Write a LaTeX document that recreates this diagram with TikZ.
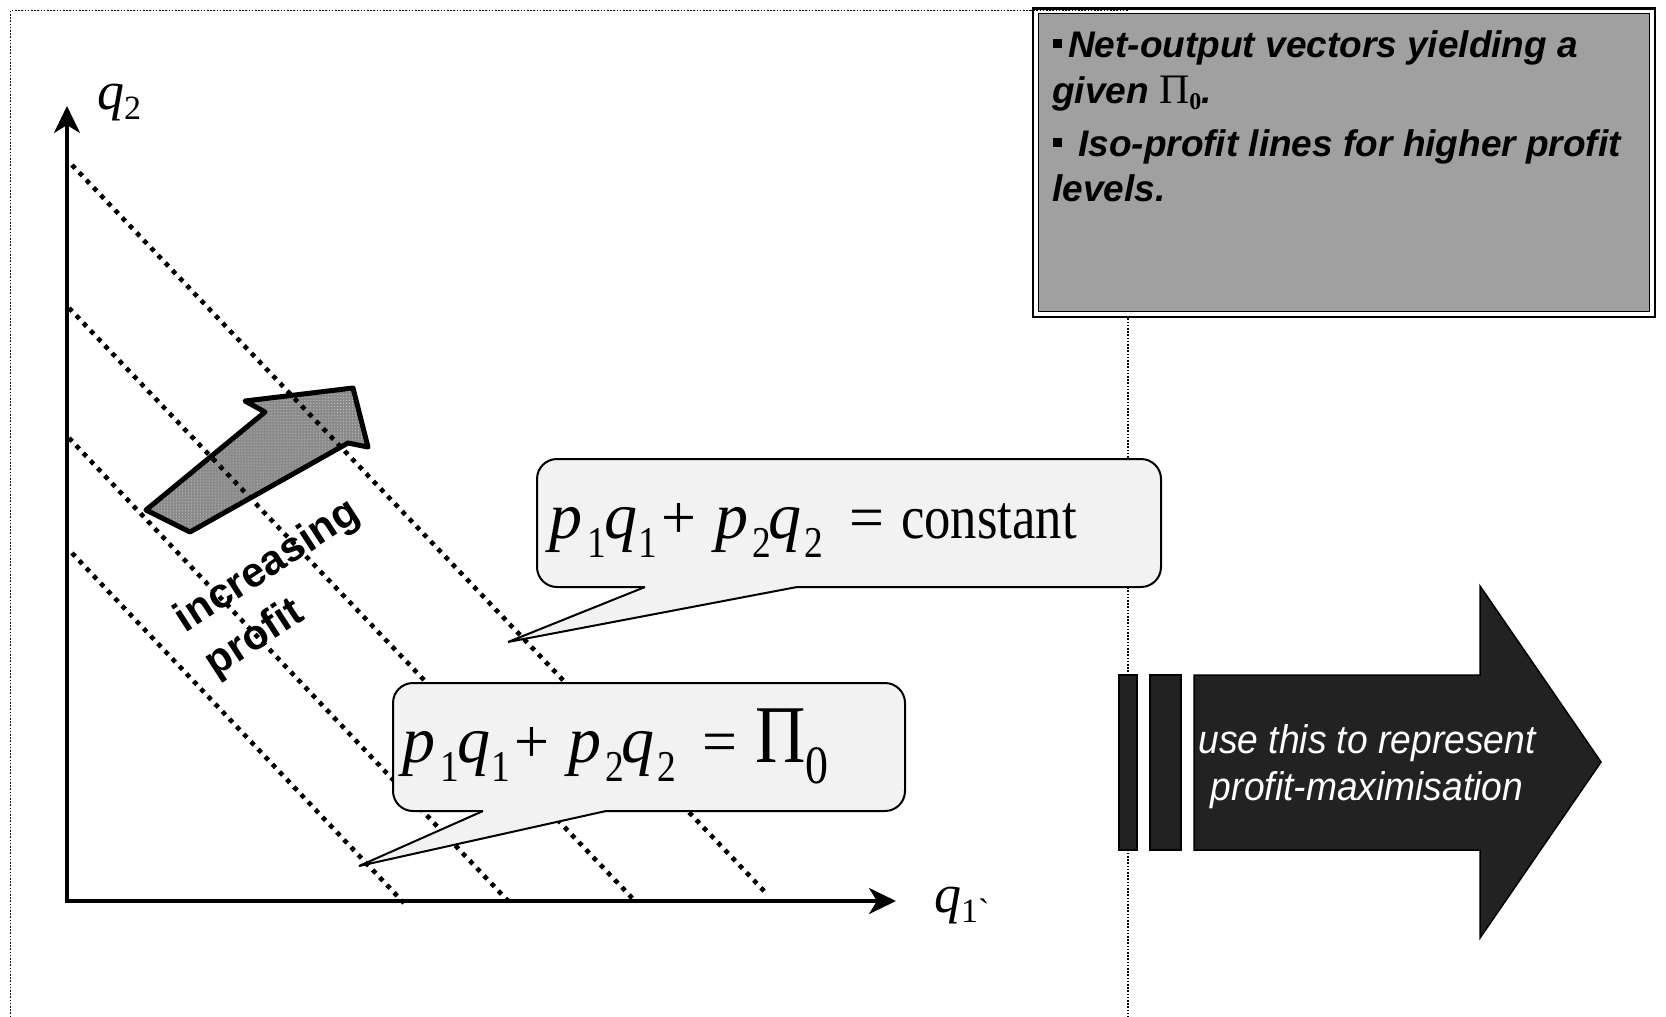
\documentclass[tikz,border=0pt]{standalone}
\usepackage{fontspec}
\usetikzlibrary{arrows.meta,patterns,calc}

\newfontfamily\sansf{Liberation Sans}
\newfontfamily\serff{Liberation Serif}
\newfontfamily\eqf[FakeStretch=0.85]{Liberation Serif}
\newfontfamily\notef[FakeStretch=0.93]{Liberation Sans}

\definecolor{panelgrey}{HTML}{A0A0A0}
\definecolor{bubblefill}{HTML}{F2F2F2}
\definecolor{darkfill}{HTML}{222222}
\definecolor{stipplebase}{HTML}{8A8A8A}
\definecolor{stippledot}{HTML}{DDDDDD}

% small square bullet
\newcommand\sqbullet{\raisebox{9bp}{\rule{9bp}{9bp}}}
% pieces of the formula: italic letters, operators, lowered subscripts
\newcommand\eqsub[1]{\raisebox{-19bp}{\eqf\upshape\fontsize{44bp}{44bp}\selectfont #1}}
\newcommand\eqvar[1]{{\serff\itshape\fontsize{66bp}{66bp}\selectfont #1}}
\newcommand\eqop[1]{{\serff\upshape\fontsize{62bp}{62bp}\selectfont #1}}
\newcommand\eqpiece[2]{\makebox[#1bp][l]{#2}}
\newcommand\lhsformula{%
  \eqpiece{38}{\eqvar{p}}\eqpiece{17}{\eqsub{1}}%
  \eqpiece{34}{\eqvar{q}}\eqpiece{23}{\eqsub{1}}%
  \eqpiece{54}{\eqop{+}}%
  \eqpiece{37}{\eqvar{p}}\eqpiece{16}{\eqsub{2}}%
  \eqpiece{36}{\eqvar{q}}\eqpiece{45}{\eqsub{2}}}

\begin{document}
\begin{tikzpicture}[x=1bp,y=-1bp,
  framedot/.style={line width=1.6bp, dash pattern=on 1.6bp off 1.6bp},
  isoline/.style={line width=4.6bp, dash pattern=on 4.6bp off 5.8bp},
  axisline/.style={line width=3.5bp,
    arrows={Stealth[length=27bp,width=26bp,inset=8bp]-Stealth[length=27bp,width=26bp,inset=8bp]}},
  bubble/.style={draw=black, fill=bubblefill, line width=2bp, rounded corners=20bp,
    inner sep=0pt, minimum height=128bp},
  eqtext/.style={font=\eqf\fontsize{62bp}{62bp}\selectfont, inner sep=0pt, anchor=base west},
  boxtext/.style={font=\sansf\bfseries\itshape\fontsize{37bp}{44bp}\selectfont,
    inner sep=0pt, anchor=base west},
  risetext/.style={font=\sansf\bfseries\fontsize{42bp}{42bp}\selectfont,
    inner sep=0pt, rotate=33},
  notetext/.style={font=\notef\itshape\fontsize{40bp}{40bp}\selectfont, text=white,
    inner sep=0pt, anchor=base},
  qlabel/.style={font=\serff\fontsize{54bp}{54bp}\selectfont, inner sep=0pt, anchor=base west},
  darkshape/.style={fill=darkfill, draw=black, line width=1.5bp, line join=miter}]

\path[use as bounding box] (0,0) rectangle (1666,1016);
\clip (0,0) rectangle (1666,1016);

% dotted page frame
\draw[framedot] (10.5,1030) -- (10.5,10.5) -- (1128,10.5) -- (1128,1030);

% grey note panel with double border
\draw[line width=2.5bp, fill=white] (1033,8.5) rectangle (1655,317);
\draw[line width=1.5bp, fill=panelgrey] (1038.5,13.5) rectangle (1649.5,311.5);
\draw[framedot] (1030,10.5) -- (1128,10.5);
\node[boxtext] (note1) at (1053,57) {\sqbullet\hspace{6bp}Net-output vectors yielding a};
\node[boxtext] (note2) at (1052,103) {given {\serff\upshape\mdseries\fontsize{42bp}{42bp}\selectfont Π\raisebox{-6bp}{\bfseries\fontsize{24bp}{24bp}\selectfont 0}}.};
\node[boxtext] (note3) at (1053,156) {\sqbullet\hspace{16bp}Iso-profit lines for higher profit};
\node[boxtext] (note4) at (1052,201) {levels.};

% axes
\coordinate (origin) at (67,901);
\coordinate (ytip) at (67,106);
\coordinate (xtip) at (896,901);
\draw[axisline] (ytip) -- (origin) -- (xtip);
\node[qlabel] (qtwo) at (97,109) {{\itshape q}\raisebox{-10bp}{\fontsize{34bp}{34bp}\selectfont 2}};
\node[qlabel] (qone) at (934,912) {{\itshape q}\raisebox{-10bp}{\fontsize{34bp}{34bp}\selectfont 1\textasciigrave}};

% stippled arrow showing the direction of higher profit
\path[fill=stipplebase] (146,510) -- (190,532) -- (348,443) -- (368,447) -- (353,388) -- (245,401) -- (265,412) -- cycle;
\path[pattern=dots, pattern color=stippledot] (146,510) -- (190,532) -- (348,443) -- (368,447) -- (353,388) -- (245,401) -- (265,412) -- cycle;
\draw[line width=5bp, line join=round] (146,510) -- (190,532) -- (348,443) -- (368,447) -- (353,388) -- (245,401) -- (265,412) -- cycle;

\node[risetext] (rise1) at (268,567) {increasing};
\node[risetext] (rise2) at (255,639) {profit};

% iso-profit lines
\draw[isoline] (72,165) -- (765,892);
\draw[isoline] (69,308) -- (635,901);
\draw[isoline] (69,438) -- (508,901);
\draw[isoline] (72,553) -- (404,903);

% callout: constant profit
\node[bubble, minimum width=624bp] (callc) at (849,523) {};
\coordinate (cbl) at (645,587);
\coordinate (cbr) at (797,587);
\coordinate (ctip) at (508,642);
\fill[bubblefill] ($(cbl)+(0,-3)$) -- (cbl) -- (ctip) -- (cbr) -- ($(cbr)+(0,-3)$) -- cycle;
\draw[line width=2bp] (cbl) -- (ctip) -- (cbr);
\node[eqtext] (eqc) at (549,538) {\lhsformula\eqpiece{52}{\eqop{=}}constant};

% callout: given profit level
\node[bubble, minimum width=512bp] (callp) at (649,747) {};
\coordinate (pbl) at (483,811);
\coordinate (pbr) at (606,811);
\coordinate (ptip) at (359,866);
\fill[bubblefill] ($(pbl)+(0,-3)$) -- (pbl) -- (ptip) -- (pbr) -- ($(pbr)+(0,-3)$) -- cycle;
\draw[line width=2bp] (pbl) -- (ptip) -- (pbr);
\node[eqtext] (eqp) at (402,762) {\lhsformula\eqpiece{53}{\eqop{=}}{\fontsize{82bp}{82bp}\selectfont Π}\raisebox{-21bp}{\fontsize{54bp}{54bp}\selectfont 0}};

% striped block arrow
\draw[darkshape] (1119,675) rectangle (1137,850);
\draw[darkshape] (1150,675) rectangle (1181,850);
\draw[darkshape] (1194,675) -- (1480,675) -- (1480,586) -- (1601,762) -- (1480,938) -- (1480,850) -- (1194,850) -- cycle;
\node[notetext] (use1) at (1367,753) {use this to represent};
\node[notetext] (use2) at (1367,800) {profit-maximisation};

\end{tikzpicture}
\end{document}
